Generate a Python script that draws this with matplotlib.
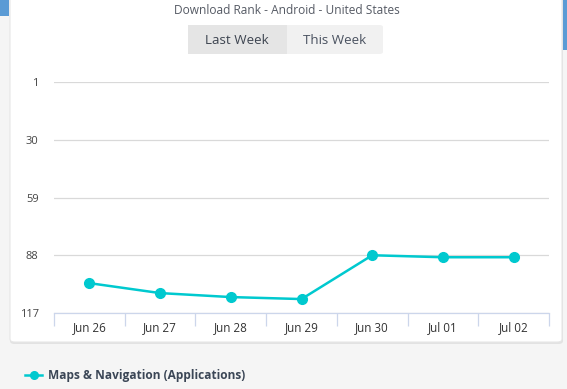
"""Download rank line chart (Android, US) - Maps & Navigation."""
import numpy as np
import matplotlib; matplotlib.use("Agg")
import matplotlib.pyplot as plt
from matplotlib.patches import FancyBboxPatch, Rectangle
from matplotlib.lines import Line2D

days = ["Jun 26", "Jun 27", "Jun 28", "Jun 29", "Jun 30", "Jul 01", "Jul 02"]
rank = [102, 107, 109, 110, 88, 89, 89]
yticks = [1, 30, 59, 88, 117]
series_name = "Maps & Navigation (Applications)"
title = "Download Rank - Android - United States"
buttons = ["Last Week", "This Week"]

CYAN = "#00c9cf"
plt.rcParams["font.family"] = ["Open Sans", "DejaVu Sans"]

W, H = 567, 389
fig = plt.figure(figsize=(W / 100, H / 100), dpi=100, facecolor="#f5f5f5")

def fx(px): return px / W
def fy(py): return 1 - py / H

def bg(p):
    p.set_zorder(-10); fig.patches.append(p)

# blue bits peeking out at the top corners
bg(Rectangle((0, fy(16)), fx(9), 16 / H, transform=fig.transFigure, fc="#5b9bd5", ec="none"))
bg(Rectangle((fx(563), fy(50)), fx(4), 50 / H, transform=fig.transFigure, fc="#5b9bd5", ec="none"))
# white card with soft shadow
bg(FancyBboxPatch((fx(10), fy(344)), fx(553), 360 / H, boxstyle="round,pad=0,rounding_size=0.008",
                  transform=fig.transFigure, fc="#e2e2e2", ec="none"))
bg(FancyBboxPatch((fx(10), fy(342)), fx(552), 360 / H, boxstyle="round,pad=0,rounding_size=0.008",
                  transform=fig.transFigure, fc="white", ec="#e6e6e6", lw=0.8))

fig.text(fx(287), fy(11), title, ha="center", va="center", fontsize=8.6, color="#555a64")

# toggle buttons
bg(FancyBboxPatch((fx(188), fy(54)), fx(195), 29 / H, boxstyle="round,pad=0,rounding_size=0.006",
                  transform=fig.transFigure, fc="#f1f1f1", ec="none"))
bg(Rectangle((fx(188), fy(54)), fx(99), 29 / H, transform=fig.transFigure, fc="#e5e5e5", ec="none"))
fig.text(fx(237), fy(40), buttons[0], ha="center", va="center", fontsize=9.6, color="#3d4450")
fig.text(fx(335), fy(40), buttons[1], ha="center", va="center", fontsize=9.6, color="#4a5260")

ax = fig.add_axes([fx(54), fy(313), fx(495), 231 / H])
ax.set_facecolor("none")
x = np.arange(len(days))
ax.plot(x, rank, color=CYAN, lw=1.8, marker="o", ms=7, mec=CYAN, mfc=CYAN, zorder=3, clip_on=False)

ax.set_xlim(-0.5, len(days) - 0.5)
ax.set_ylim(yticks[-1], yticks[0])
ax.set_yticks(yticks)
ax.set_yticklabels([str(t) for t in yticks])
ax.grid(axis="y", color="#d9d9d9", lw=0.9)
ax.tick_params(axis="y", length=0, pad=11, labelsize=8, labelcolor="#444444")

ax.set_xticks(x)
ax.set_xticklabels(days)
ax.set_xticks(np.arange(len(days) + 1) - 0.5, minor=True)
ax.tick_params(axis="x", which="major", length=0, pad=6, labelsize=8.4, labelcolor="#333333")
ax.tick_params(axis="x", which="minor", length=9, width=0.9, color="#ccd6eb")
for s in ["top", "right", "left"]:
    ax.spines[s].set_visible(False)
ax.spines["bottom"].set_color("#ccd6eb")
ax.spines["bottom"].set_linewidth(0.9)

# legend
fig.add_artist(Line2D([fx(25), fx(42)], [fy(375), fy(375)], transform=fig.transFigure, color=CYAN, lw=1.8))
fig.add_artist(Line2D([fx(33.5)], [fy(375)], transform=fig.transFigure, color=CYAN, marker="o", ms=5.5))
fig.text(fx(48), fy(375), series_name, ha="left", va="center", fontsize=8.6, fontweight="bold", color="#3b4656")

fig.savefig("out.png", dpi=100, facecolor=fig.get_facecolor())
